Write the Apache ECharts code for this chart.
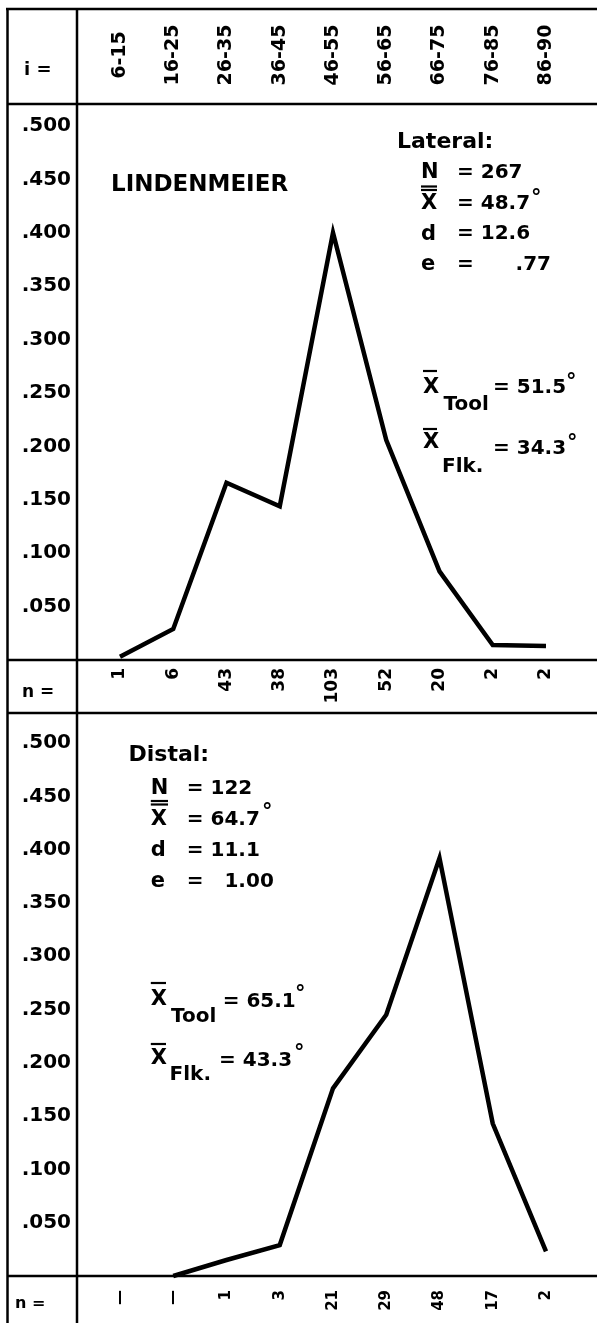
<!DOCTYPE html>
<html>
<head>
<meta charset="utf-8">
<script src="https://cdn.jsdelivr.net/npm/echarts@6/dist/echarts.min.js"></script>
<style>
  html, body { margin: 0; padding: 0; background: #fff; }
  #chart { width: 597px; height: 1323px; }
</style>
</head>
<body>
<div id="chart"></div>
<script>
// Edge-angle classes (degrees)
const angleClasses = ['6-15', '16-25', '26-35', '36-45', '46-55', '56-65', '66-75', '76-85', '86-90'];

// Lateral edges: counts per class and relative frequency
const lateralCounts = ['1', '6', '43', '38', '103', '52', '20', '2', '2'];
const lateralFreq = [0.003, 0.029, 0.166, 0.144, 0.400, 0.206, 0.083, 0.014, 0.013];

// Distal edges: counts per class and relative frequency
const distalCounts = ['—', '—', '1', '3', '21', '29', '48', '17', '2'];
const distalFreq = [null, 0.000, 0.015, 0.029, 0.176, 0.245, 0.392, 0.143, 0.023];

// Frequency axis tick labels (.050 ... .500)
const freqTicks = ['.050', '.100', '.150', '.200', '.250', '.300', '.350', '.400', '.450', '.500'];

// Summary statistics printed in each panel
const lateralStats = [['N', '= 267'], ['X', '= 48.7'], ['d', '= 12.6'], ['e', '=      .77']];
const distalStats = [['N', '= 122'], ['X', '= 64.7'], ['d', '= 11.1'], ['e', '=   1.00']];

const INK = '#000';
const FAMILY = '"DejaVu Sans"';
const font = (size) => 'bold ' + size + 'px ' + FAMILY;

const chart = echarts.init(document.getElementById('chart'), null, { renderer: 'canvas' });

function text(x, y, s, size, align) {
  return {
    type: 'text', x: x, y: y, silent: true,
    style: { text: s, font: font(size), fill: INK, align: align || 'left', verticalAlign: 'middle' }
  };
}
function rule(x1, y1, x2, y2, w) {
  return {
    type: 'line', silent: true,
    shape: { x1: x1, y1: y1, x2: x2, y2: y2 },
    style: { stroke: INK, lineWidth: w || 2.5, lineCap: 'butt' }
  };
}
// short horizontal bar (under/over a letter)
const bar = (xa, xb, y) => rule(xa, y, xb, y, 2.2);

// Table frame
const frame = [
  rule(6, 9, 597, 9),
  rule(7.5, 104, 597, 104),
  rule(7.5, 660, 597, 660),
  rule(7.5, 713, 597, 713),
  rule(7.5, 1276, 597, 1276),
  rule(7.5, 8, 7.5, 1323),
  rule(77, 8, 77, 1323)
];

// Row captions in the left column
const captions = [
  text(24, 70, 'i =', 18),
  text(22, 692.5, 'n =', 17),
  text(15, 1303.5, 'n =', 16)
];

// Statistics block: letter, value, bars under N / over X, degree sign
function statBlock(stats, x, yTop, step, valX, bars, degrees) {
  const out = [];
  stats.forEach((row, i) => {
    out.push(text(x, yTop + i * step, row[0], 21));
    out.push(text(valX, yTop + i * step, row[1], 20));
  });
  bars.forEach(b => out.push(bar(b[0], b[1], b[2])));
  degrees.forEach(d => out.push(text(d[0], d[1], '°', 21)));
  return out;
}

const lateralNotes = [
  text(111, 185, 'LINDENMEIER', 23),
  text(397, 142.5, 'Lateral:', 22),
  ...statBlock(lateralStats, 421, 173, 30.6, 457,
    [[421, 437, 186.5], [421, 437, 190]],
    [[531, 199]]),
  // mean angle of tools
  text(423, 387.5, 'X', 21),
  bar(423, 437, 371),
  text(443.5, 405, 'Tool', 20),
  text(493, 387.5, '= 51.5', 20),
  text(566, 383, '°', 21),
  // mean angle of flakes
  text(423, 443, 'X', 21),
  bar(423, 437, 429),
  text(442, 467, 'Flk.', 20),
  text(493, 448.5, '= 34.3', 20),
  text(567, 444, '°', 21)
];

const distalNotes = [
  text(128.5, 755.7, 'Distal:', 22),
  ...statBlock(distalStats, 150.8, 788.5, 31, 186.8,
    [[150.8, 168, 801], [150.8, 168, 804.5]],
    [[262, 813]]),
  text(150.8, 999.5, 'X', 21),
  bar(150.8, 166, 983),
  text(171, 1016.5, 'Tool', 20),
  text(222.7, 1001.5, '= 65.1', 20),
  text(295, 995, '°', 21),
  text(150.8, 1059, 'X', 21),
  bar(150.8, 166, 1044),
  text(169.6, 1075, 'Flk.', 20),
  text(219, 1061, '= 43.3', 20),
  text(294, 1054, '°', 21)
];

const freqLabel = (v) => {
  const i = Math.round(v / 0.05);
  return i === 0 ? '' : freqTicks[i - 1];
};

const yAxisCommon = {
  type: 'value', min: 0, max: 0.5, interval: 0.05,
  axisLine: { show: false }, axisTick: { show: false }, splitLine: { show: false },
  axisLabel: { formatter: freqLabel, color: INK, fontFamily: FAMILY, fontWeight: 'bold', fontSize: 20, margin: 49 }
};

const catAxis = (extra) => Object.assign({
  type: 'category', data: angleClasses, boundaryGap: false,
  axisLine: { show: false }, axisTick: { show: false }, splitLine: { show: false }
}, extra);

const option = {
  backgroundColor: '#fff',
  animation: false,
  grid: [
    { left: 120, right: 51, top: 126, height: 534 },
    { left: 120, right: 51, top: 743, height: 533 }
  ],
  xAxis: [
    // class intervals along the top
    catAxis({ gridIndex: 0, position: 'top', offset: 22,
      axisLabel: { interval: 0, rotate: 90, margin: 49, align: 'center', verticalAlign: 'middle',
        color: INK, fontFamily: FAMILY, fontWeight: 'bold', fontSize: 19 } }),
    // lateral counts
    catAxis({ gridIndex: 0, position: 'bottom',
      axisLabel: { interval: 0, rotate: 90, margin: 8, formatter: (v, i) => lateralCounts[i],
        color: INK, fontFamily: FAMILY, fontWeight: 'bold', fontSize: 17 } }),
    // distal counts
    catAxis({ gridIndex: 1, position: 'bottom',
      axisLabel: { interval: 0, rotate: 90, margin: 14, formatter: (v, i) => distalCounts[i],
        color: INK, fontFamily: FAMILY, fontWeight: 'bold', fontSize: 15 } })
  ],
  yAxis: [
    Object.assign({ gridIndex: 0 }, yAxisCommon),
    Object.assign({ gridIndex: 1 }, yAxisCommon)
  ],
  series: [
    { name: 'Lateral', type: 'line', xAxisIndex: 1, yAxisIndex: 0, data: lateralFreq,
      symbol: 'none', clip: false,
      lineStyle: { color: INK, width: 4.5, join: 'miter', cap: 'butt' } },
    { name: 'Distal', type: 'line', xAxisIndex: 2, yAxisIndex: 1, data: distalFreq,
      symbol: 'none', clip: false, connectNulls: false,
      lineStyle: { color: INK, width: 4.5, join: 'miter', cap: 'butt' } }
  ],
  graphic: [...frame, ...captions, ...lateralNotes, ...distalNotes]
};

chart.setOption(option);
</script>
</body>
</html>
